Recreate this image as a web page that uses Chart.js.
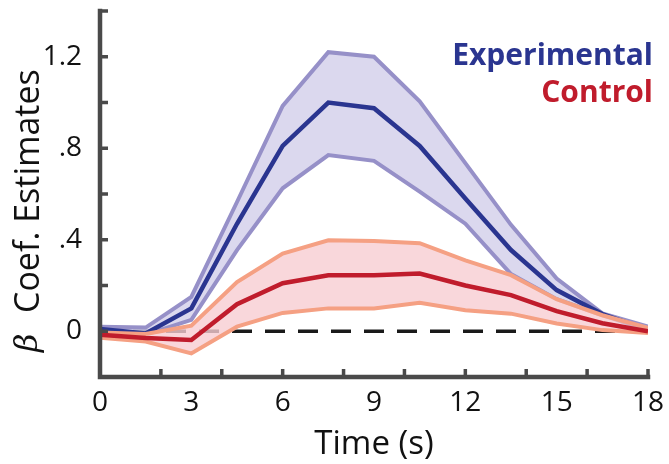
<!DOCTYPE html>
<html>
<head>
<meta charset="utf-8">
<script src="https://cdn.jsdelivr.net/npm/chart.js@4/dist/chart.umd.min.js"></script>
<style>
  html, body { margin: 0; padding: 0; background: #ffffff; }
  #wrap { width: 669px; height: 464px; position: relative; }
</style>
</head>
<body>
<div id="wrap"><canvas id="chart" width="669" height="464"></canvas></div>
<script>
// Time points (s)
const timeS = [0, 1.5, 3, 4.5, 6, 7.5, 9, 10.5, 12, 13.5, 15, 16.5, 18];

// Experimental group: mean and band limits
const expMean  = [0.01, -0.01, 0.10, 0.47, 0.81, 1.00, 0.975, 0.81, 0.58, 0.355, 0.18, 0.075, 0.005];
const expUpper = [0.02, 0.016, 0.15, 0.565, 0.985, 1.22, 1.20, 1.005, 0.735, 0.465, 0.23, 0.078, 0.02];
const expLower = [0.0, -0.015, 0.05, 0.355, 0.625, 0.77, 0.745, 0.61, 0.47, 0.25, 0.14, 0.07, 0.005];

// Control group: mean and band limits
const ctrlMean  = [-0.015, -0.03, -0.038, 0.118, 0.21, 0.245, 0.245, 0.252, 0.20, 0.158, 0.088, 0.035, 0.0];
const ctrlUpper = [-0.005, -0.012, 0.024, 0.215, 0.34, 0.398, 0.395, 0.385, 0.31, 0.245, 0.14, 0.07, 0.015];
const ctrlLower = [-0.028, -0.045, -0.097, 0.02, 0.08, 0.10, 0.10, 0.125, 0.092, 0.077, 0.034, 0.005, -0.008];

// Reference line at zero
const zeroLineX = [0, 18];
const zeroLineY = [0, 0];

// Axis ticks
const xTickLabels = [0, 3, 6, 9, 12, 15, 18];
const xTickMarks  = [0, 2, 4, 6, 8, 10, 12, 14, 16, 18];
const yTickLabels = [0, 0.4, 0.8, 1.2];
const yTickText   = ['0', '.4', '.8', '1.2'];
const yTickMarks  = [-0.2, 0, 0.2, 0.4, 0.6, 0.8, 1.0, 1.2, 1.4];

const seriesNames = ['Experimental', 'Control'];

const AXIS_COLOR = '#4a4a4a';
const EXP_DARK = '#2a3590', EXP_EDGE = '#9690c8', EXP_FILL = 'rgba(210,206,234,0.8)';
const CTRL_DARK = '#c01c2c', CTRL_EDGE = '#f5a083', CTRL_FILL = 'rgba(247,205,210,0.8)';
const FONT = '"Open Sans", "Noto Sans", sans-serif';

const pts = (ys) => timeS.map((t, i) => ({ x: t, y: ys[i] }));
const lineSet = (label, ys, color, width, order, extra) => Object.assign({
  label, data: pts(ys), borderColor: color, borderWidth: width,
  pointRadius: 0, pointHoverRadius: 0, tension: 0, fill: false, order,
  borderJoinStyle: 'miter', borderCapStyle: 'butt'
}, extra || {});

// Axes with inward tick marks, drawn over the data
const axesPlugin = {
  id: 'axes',
  afterDatasetsDraw(chart) {
    const { ctx, scales: { x, y } } = chart;
    const x0 = x.getPixelForValue(0), x1 = x.getPixelForValue(18);
    const yb = y.getPixelForValue(-0.2), yt = y.getPixelForValue(1.4);
    ctx.save();
    ctx.strokeStyle = AXIS_COLOR;
    ctx.lineCap = 'square';
    ctx.lineWidth = 4.5;
    ctx.beginPath();
    ctx.moveTo(x0, yt);
    ctx.lineTo(x0, yb);
    ctx.lineTo(x1, yb);
    ctx.stroke();
    ctx.lineCap = 'butt';
    ctx.lineWidth = 3.5;
    ctx.beginPath();
    xTickMarks.forEach(v => {
      const px = x.getPixelForValue(v);
      ctx.moveTo(px, yb);
      ctx.lineTo(px, yb - 8);
    });
    yTickMarks.forEach(v => {
      const py = y.getPixelForValue(v);
      ctx.moveTo(x0, py);
      ctx.lineTo(x0 + 8, py);
    });
    ctx.stroke();
    ctx.restore();
  },
  afterDraw(chart) {
    const { ctx } = chart;
    ctx.save();
    // y-axis title: italic beta followed by the label text
    ctx.translate(39, 0);
    ctx.rotate(-Math.PI / 2);
    ctx.fillStyle = '#111111';
    ctx.textBaseline = 'alphabetic';
    ctx.textAlign = 'left';
    ctx.font = 'italic 32px "DejaVu Serif", serif';
    ctx.fillText('\u03B2', -352, -2);
    ctx.font = '34px ' + FONT;
    ctx.fillText('Coef. Estimates', -313, 0);
    ctx.restore();

    // series key, top right
    ctx.save();
    ctx.textAlign = 'right';
    ctx.textBaseline = 'alphabetic';
    ctx.font = 'bold 30px ' + FONT;
    ctx.fillStyle = EXP_DARK;
    ctx.fillText(seriesNames[0], 653, 65);
    ctx.fillStyle = CTRL_DARK;
    ctx.fillText(seriesNames[1], 653, 102);
    ctx.restore();
  }
};

new Chart(document.getElementById('chart'), {
  type: 'line',
  data: {
    datasets: [
      { label: 'zero', data: zeroLineX.map((v, i) => ({ x: v, y: zeroLineY[i] })),
        borderColor: '#1a1a1a', borderWidth: 3.3, borderDash: [20, 13], pointRadius: 0,
        fill: false, order: 20 },
      lineSet('Experimental lower', expLower, EXP_EDGE, 4, 14),
      lineSet('Experimental band', expUpper, 'rgba(0,0,0,0)', 1, 15,
        { fill: { target: 1 }, backgroundColor: EXP_FILL }),
      lineSet('Experimental upper', expUpper, EXP_EDGE, 4, 14),
      lineSet('Experimental', expMean, EXP_DARK, 4.5, 13),
      lineSet('Control lower', ctrlLower, CTRL_EDGE, 4, 11),
      lineSet('Control band', ctrlUpper, 'rgba(0,0,0,0)', 1, 12,
        { fill: { target: 5 }, backgroundColor: CTRL_FILL }),
      lineSet('Control upper', ctrlUpper, CTRL_EDGE, 4, 11),
      lineSet('Control', ctrlMean, CTRL_DARK, 4.5, 10)
    ]
  },
  options: {
    responsive: false,
    animation: false,
    devicePixelRatio: 1,
    layout: { padding: { top: 11, right: 21, left: 0, bottom: 0 } },
    plugins: {
      legend: { display: false },
      tooltip: { enabled: false },
      filler: { propagate: false }
    },
    scales: {
      x: {
        type: 'linear',
        min: 0, max: 18,
        grid: { display: false },
        border: { display: false },
        afterBuildTicks: (s) => { s.ticks = xTickLabels.map(v => ({ value: v })); },
        afterFit: (s) => { s.height = 87; s.paddingLeft = 0; s.paddingRight = 0; },
        ticks: {
          padding: 1,
          color: '#111111',
          font: { family: FONT, size: 28 },
          maxRotation: 0,
          autoSkip: false
        },
        title: {
          display: true,
          text: 'Time (s)',
          color: '#111111',
          font: { family: FONT, size: 33 },
          padding: { top: 0, bottom: 0 }
        }
      },
      y: {
        type: 'linear',
        min: -0.2, max: 1.4,
        grid: { display: false },
        border: { display: false },
        afterBuildTicks: (s) => { s.ticks = yTickLabels.map(v => ({ value: v })); },
        afterFit: (s) => { s.width = 100; s.paddingTop = 0; s.paddingBottom = 0; },
        ticks: {
          padding: 10,
          color: '#111111',
          font: { family: FONT, size: 28 },
          autoSkip: false,
          callback: (v) => {
            const i = yTickLabels.indexOf(v);
            return i >= 0 ? yTickText[i] : '';
          }
        }
      }
    }
  },
  plugins: [axesPlugin]
});
</script>
</body>
</html>
